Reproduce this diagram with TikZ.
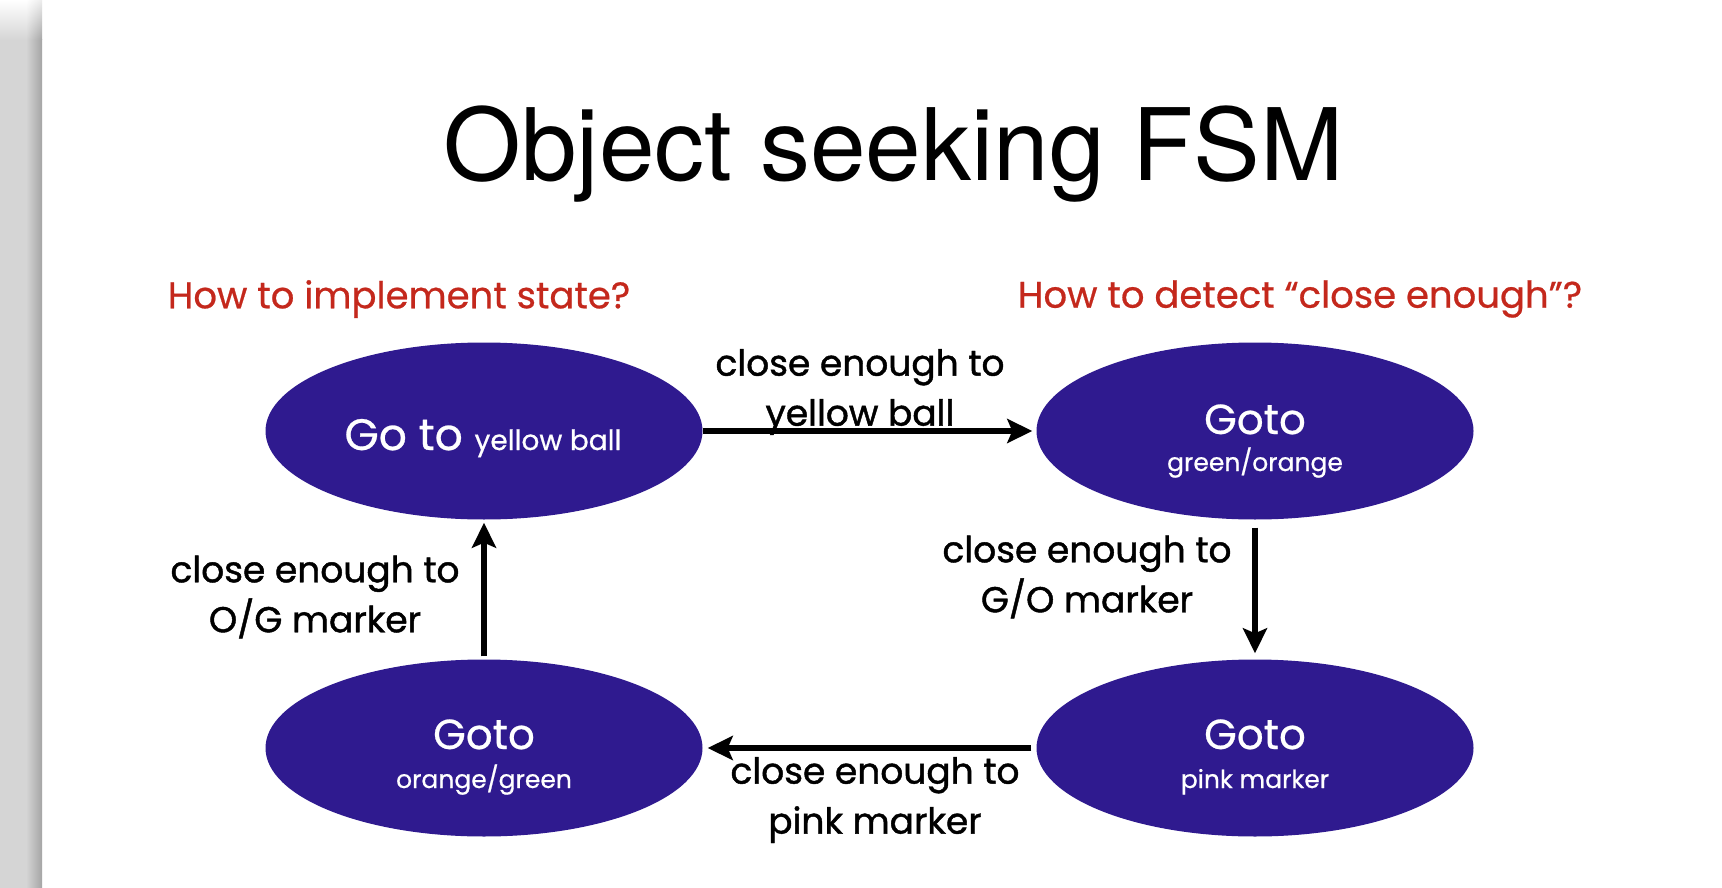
\documentclass[tikz,border=0pt]{standalone}
\usepackage{fontspec}
\newfontfamily\comic{Poppins}[FakeBold=1.2]
\newfontfamily\comicw{Poppins}[FakeBold=0.6]
\newfontfamily\helv{TeX Gyre Heros}
\usetikzlibrary{arrows.meta,shapes.geometric,shadings}
\definecolor{statefill}{RGB}{47,26,143}
\definecolor{qred}{RGB}{196,40,28}
\definecolor{stripl}{RGB}{213,213,213}
\definecolor{stripd}{RGB}{165,165,165}
\begin{document}
\begin{tikzpicture}[x=1pt,y=-1pt,
  state/.style={ellipse, fill=statefill, minimum width=437pt, minimum height=177pt, inner sep=0pt},
  stxt/.style={text=white, inner sep=0pt, anchor=base},
  lbl/.style={font=\comic\fontsize{36}{50}\selectfont, align=center, inner sep=0pt},
  qlbl/.style={text=qred, font=\comicw\fontsize{37}{44}\selectfont, inner sep=0pt},
  trans/.style={line width=6pt, -{Stealth[length=25pt,width=24pt,inset=5pt]}}]
\useasboundingbox (0,0) rectangle (1722,888);
\fill[white] (0,0) rectangle (1722,888);
% left gray strip
\fill[stripl] (0,40) rectangle (26,888);
\shade[left color=stripl, right color=stripd] (26,40) rectangle (42,888);
\shade[upper left=white, upper right=white, lower left=stripl, lower right=stripl] (0,0) rectangle (26,40);
\shade[upper left=white, upper right=white!85!gray, lower left=stripl, lower right=stripd] (26,0) rectangle (42,40);
% title
\node[font=\helv\fontsize{100}{110}\selectfont, inner sep=0pt, anchor=base east] (title) at (1344,180) {Object seeking FSM};
% questions
\node[qlbl] (q1) at (399,299) {How to implement state?};
\node[qlbl] (q2) at (1300,299) {How to detect “close enough”?};
% states
\node[state] (E1) at (484,431) {};
\node[state] (E2) at (1255,431) {};
\node[state] (E3) at (484,748) {};
\node[state] (E4) at (1255,748) {};
\node[stxt] (t1) at (483,450) {\comicw\fontsize{44}{50}\selectfont Go to \fontsize{28}{30}\selectfont yellow ball};
\node[stxt] (t2a) at (1255,434) {\comicw\fontsize{42}{50}\selectfont Goto};
\node[stxt] (t2b) at (1255,471) {\comicw\fontsize{25}{30}\selectfont green/orange};
\node[stxt] (t3a) at (484,749) {\comicw\fontsize{42}{50}\selectfont Goto};
\node[stxt] (t3b) at (484,788) {\comicw\fontsize{25}{30}\selectfont orange/green};
\node[stxt] (t4a) at (1255,749) {\comicw\fontsize{42}{50}\selectfont Goto};
\node[stxt] (t4b) at (1255,788) {\comicw\fontsize{25}{30}\selectfont pink marker};
% transitions
\draw[trans, shorten >=4pt] (E1) -- (E2);
\draw[trans, shorten <=8pt, shorten >=6pt] (E2) -- (E4);
\draw[trans, shorten <=5pt, shorten >=5pt] (E4) -- (E3);
\draw[trans, shorten <=3pt, shorten >=3pt] (E3) -- (E1);
% transition labels
\node[lbl] (l1) at (860,392) {close enough to\\yellow ball};
\node[lbl] (l2) at (315,597) {close enough to\\O/G marker};
\node[lbl] (l3) at (1087,577) {close enough to\\G/O marker};
\node[lbl] (l4) at (875,800) {close enough to\\pink marker};
\end{tikzpicture}
\end{document}
